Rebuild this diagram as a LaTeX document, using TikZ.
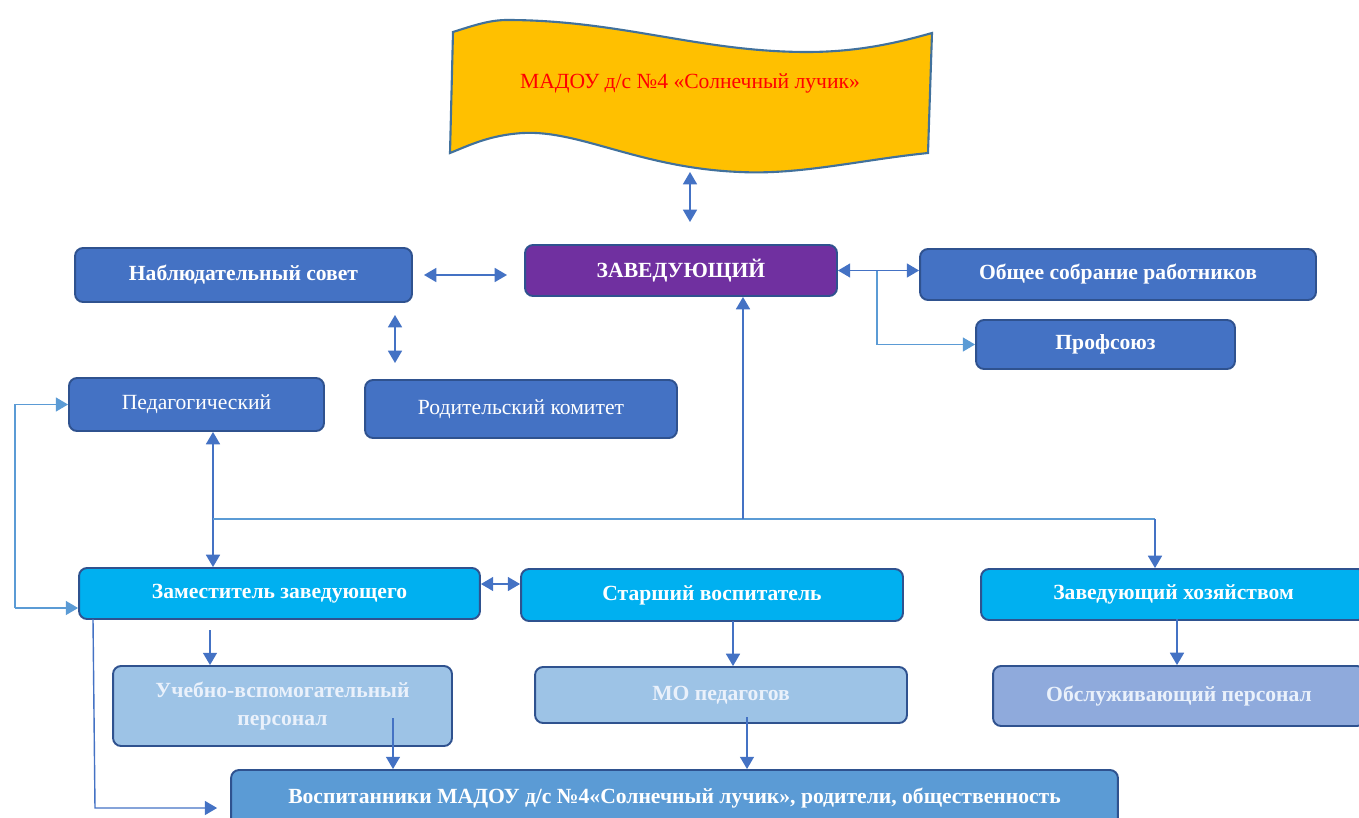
\documentclass[tikz,border=0pt]{standalone}
\usepackage{fontspec}
\setmainfont{Liberation Serif}
\usetikzlibrary{arrows.meta}

\definecolor{boxedge}{HTML}{2F528F}
\definecolor{nabblue}{HTML}{4472C4}
\definecolor{zavpurple}{HTML}{7030A0}
\definecolor{zamcyan}{HTML}{00B0F0}
\definecolor{uchblue}{HTML}{9DC3E6}
\definecolor{obslblue}{HTML}{8FAADC}
\definecolor{vosblue}{HTML}{5B9BD5}
\definecolor{gold}{HTML}{FFC000}
\definecolor{banedge}{HTML}{41719C}
\definecolor{arrblue}{HTML}{4472C4}
\definecolor{lineblue}{HTML}{5B9BD5}
\definecolor{paletext}{HTML}{EAF1FB}

\begin{document}
\begin{tikzpicture}[x=0.02cm,y=-0.02cm,
   box/.style={draw=boxedge,line width=1.1pt,rounded corners=0.16cm,text=white,
     align=center,inner sep=0pt,font=\fontsize{12.3}{16}\selectfont\bfseries},
   plain/.style={font=\fontsize{12.3}{16}\selectfont},
   arr/.style={draw=arrblue,line width=0.8pt,-{Triangle[width=8pt,length=7pt]}},
   dbl/.style={arr,{Triangle[width=8pt,length=7pt]}-{Triangle[width=8pt,length=7pt]}},
   arrl/.style={arr,draw=lineblue,-{Triangle[width=8pt,length=7pt,fill=lineblue]}},
   bus/.style={draw=lineblue,line width=0.8pt}]
   \useasboundingbox (0,0) rectangle (1359,818);

   % banner
   \draw[fill=gold,draw=banedge,line width=1.2pt] (453,32) .. controls (475,25) and (490,20) .. (507,20)
      .. controls (620,20) and (700,52) .. (807,52) .. controls (860,52) and (900,42) .. (932,33)
      -- (928,153) .. controls (860,160) and (800,175) .. (740,172)
      .. controls (640,168) and (580,130) .. (523,133) .. controls (490,135) and (470,145) .. (450,153) -- cycle;
   \node[plain,text=red] (ban) at (690,83) {МАДОУ д/с №4 «Солнечный лучик»};

   % upper level
   \node[box,fill=nabblue,minimum width=6.74cm,minimum height=1.08cm] (nab) at (243.5,275) {Наблюдательный совет};
   \node[box,fill=zavpurple,minimum width=6.24cm,minimum height=1.02cm] (zav) at (681,270.5) {ЗАВЕДУЮЩИЙ};
   \node[box,fill=nabblue,minimum width=7.92cm,minimum height=1.02cm] (obs) at (1118,274.5) {Общее собрание работников};
   \node[box,fill=nabblue,minimum width=5.18cm,minimum height=0.98cm] (prof) at (1105.5,344.5) {Профсоюз};
   \node[box,plain,fill=nabblue,minimum width=5.10cm,minimum height=1.06cm] (ped) at (196.5,404.5) {Педагогический};
   \node[box,plain,fill=nabblue,minimum width=6.24cm,minimum height=1.16cm] (rod) at (521,409) {Родительский комитет};

   % middle level
   \node[box,fill=zamcyan,minimum width=8.02cm,minimum height=1.02cm] (zam) at (279.5,593.5) {Заместитель заведующего};
   \node[box,fill=zamcyan,minimum width=7.64cm,minimum height=1.04cm] (star) at (712,595) {Старший воспитатель};
   \node[box,fill=zamcyan,minimum width=7.70cm,minimum height=1.02cm] (hoz) at (1173.5,594.5) {Заведующий хозяйством};

   % lower level
   \node[box,fill=uchblue,text=paletext,minimum width=6.78cm,minimum height=1.60cm] (uch) at (282.5,706) {Учебно-вспомогательный\\персонал};
   \node[box,fill=uchblue,text=paletext,minimum width=7.44cm,minimum height=1.12cm] (mo) at (721,695) {МО педагогов};
   \node[box,fill=obslblue,text=paletext,minimum width=7.44cm,minimum height=1.20cm] (obsl) at (1179,696) {Обслуживающий персонал};
   \node[box,fill=vosblue,minimum width=17.74cm,minimum height=1.12cm] (vos) at (674.5,798) {Воспитанники МАДОУ д/с №4«Солнечный лучик», родители, общественность};

   % free ends
   \coordinate (b1) at (690,172);
   \coordinate (b2) at (690,222);
   \coordinate (n1) at (424,275);
   \coordinate (n2) at (507,275);
   \coordinate (r1) at (395,315);
   \coordinate (r2) at (395,363);
   \coordinate (br) at (877,271);
   \coordinate (lp) at (15,608);
   \coordinate (pz) at (213,519);
   \coordinate (vz) at (743,519);
   \coordinate (hz) at (1155,519);
   \coordinate (zu) at (210,630);
   \coordinate (uv) at (393,718);
   \coordinate (zl) at (93,619);
   \coordinate (vl) at (95,808);
   \coordinate (sm) at (733,621);
   \coordinate (mv) at (747,717);
   \coordinate (ho) at (1177,619);

   % connectors
   \draw[dbl] (b1) -- (b2);
   \draw[dbl] (n1) -- (n2);
   \draw[dbl] (r1) -- (r2);
   \draw[dbl] (zav.east) -- (zav.east -| obs.west);
   \draw[arrl] (br) |- (prof.west);
   \draw[arrl] (lp) |- (ped.west);
   \draw[arrl] (lp) -- (lp -| zam.west);
   \draw[dbl] (pz |- ped.south) -- (pz |- zam.north);
   \draw[bus] (pz) -- (hz);
   \draw[arr] (vz) -- (vz |- zav.south);
   \draw[arr] (hz) -- (hz |- hoz.north);
   \draw[dbl] ([yshift=0.19cm]zam.east) -- ([yshift=0.19cm]zam.east -| star.west);
   \draw[arr] (zu) -- (zu |- uch.north);
   \draw[arr] (uv) -- (uv |- vos.north);
   \draw[arr,shorten >=0.26cm] (zl) -- (vl) -- (vl -| vos.west);
   \draw[arr] (sm) -- (sm |- mo.north);
   \draw[arr] (mv) -- (mv |- vos.north);
   \draw[arr] (ho) -- (ho |- obsl.north);
\end{tikzpicture}
\end{document}
